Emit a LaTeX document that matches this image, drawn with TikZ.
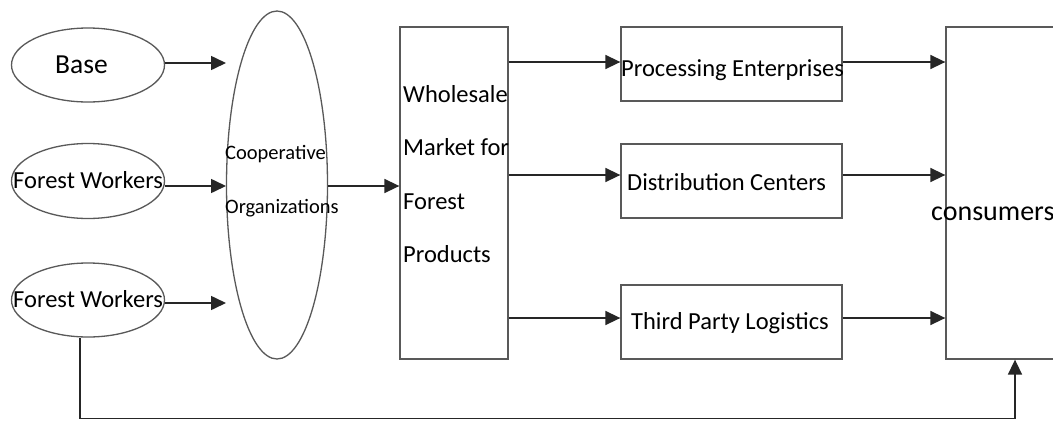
\documentclass[tikz,border=0pt]{standalone}
\usepackage{fontspec}
\setmainfont{Carlito}
\usetikzlibrary{shapes.geometric,arrows.meta}
\begin{document}
\begin{tikzpicture}[x=1pt,y=-1pt,
  shapeline/.style={draw=black!65,line width=1.3pt},
  oval/.style={shapeline,ellipse,inner sep=0pt},
  box/.style={shapeline,rectangle,inner sep=0pt},
  lbl/.style={inner sep=0pt,font=\fontsize{24.5}{28}\selectfont},
  slbl/.style={inner sep=0pt,font=\fontsize{20.5}{24}\selectfont},
  arr/.style={draw=black!85,line width=1.6pt,-{Triangle[length=15pt,width=14pt]}}]
\clip (0,0) rectangle (1053,421);
\fill[white] (0,0) rectangle (1053,421);
% shapes
\node[oval,minimum width=153pt,minimum height=74pt] (base) at (88,65) {};
\node[oval,minimum width=153pt,minimum height=75pt] (fw1) at (88,181) {};
\node[oval,minimum width=153pt,minimum height=74pt] (fw2) at (88,300) {};
\node[oval,minimum width=101pt,minimum height=348pt] (coop) at (277,185) {};
\node[box,minimum width=108pt,minimum height=332pt] (whole) at (454,193) {};
\node[box,minimum width=221pt,minimum height=74pt] (proc) at (731.5,64) {};
\node[box,minimum width=221pt,minimum height=74pt] (dist) at (731.5,181) {};
\node[box,minimum width=221pt,minimum height=74pt] (third) at (731.5,322) {};
\node[box,minimum width=138pt,minimum height=332pt] (cons) at (1015,193) {};
% texts
\node[lbl,font=\fontsize{27.5}{30}\selectfont,anchor=mid west] (tbase) at (55,71) {Base};
\node[lbl,anchor=mid west] (tfw1) at (13,186) {Forest Workers};
\node[lbl,anchor=mid west] (tfw2) at (13,305) {Forest Workers};
\node[slbl,anchor=mid west] (tcoop1) at (225,157) {Cooperative};
\node[slbl,anchor=mid west] (tcoop2) at (225,211) {Organizations};
\node[lbl,anchor=mid west] (tw1) at (403,100) {Wholesale};
\node[lbl,anchor=mid west] (tw2) at (403,153) {Market for};
\node[lbl,anchor=mid west] (tw3) at (403,207) {Forest};
\node[lbl,anchor=mid west] (tw4) at (403,260) {Products};
\node[lbl,anchor=mid west] (tproc) at (621,74) {Processing Enterprises};
\node[lbl,anchor=mid west] (tdist) at (627,188) {Distribution Centers};
\node[lbl,anchor=mid west] (tthird) at (631,327) {Third Party Logistics};
\node[lbl,font=\fontsize{28}{32}\selectfont,anchor=mid west] (tcons) at (931,218) {consumers};
% free ends
\coordinate (e1) at (226,63);
\coordinate (e2) at (226,186);
\coordinate (e3) at (226,303);
% connectors
\draw[arr] (base.east |- e1) -- (e1);
\draw[arr] (fw1.east |- e2) -- (e2);
\draw[arr] (fw2.east |- e3) -- (e3);
\draw[arr] (coop.east |- e2) -- (whole.west |- e2);
\draw[arr] (whole.east |- 0,62) -- (proc.west |- 0,62);
\draw[arr] (whole.east |- 0,175) -- (dist.west |- 0,175);
\draw[arr] (whole.east |- 0,318) -- (third.west |- 0,318);
\draw[arr] (proc.east |- 0,62) -- (cons.west |- 0,62);
\draw[arr] (dist.east |- 0,175) -- (cons.west |- 0,175);
\draw[arr] (third.east |- 0,318) -- (cons.west |- 0,318);
\draw[arr] ([xshift=-8pt]fw2.south) -- ++(0,81) -| (cons.south);
\end{tikzpicture}
\end{document}
